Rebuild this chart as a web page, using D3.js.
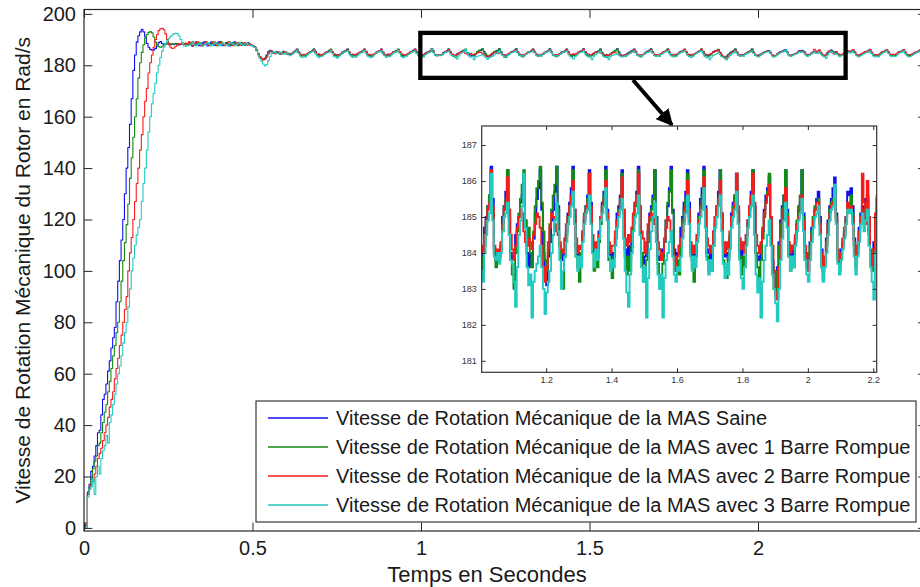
<!DOCTYPE html>
<html>
<head>
<meta charset="utf-8">
<script src="https://cdn.jsdelivr.net/npm/d3@7/dist/d3.min.js"></script>
<style>
  body { margin: 0; background: #fff; }
  svg { display: block; }
</style>
</head>
<body>
<svg id="chart" width="920" height="587"></svg>
<script>
// Sampling step of the simulated speed signals (s)
const STEP = 0.005;

// Axis ticks
const xTicks = [0, 0.5, 1, 1.5, 2];
const yTicks = [0, 20, 40, 60, 80, 100, 120, 140, 160, 180, 200];
const insetXTicks = [1.2, 1.4, 1.6, 1.8, 2, 2.2];
const insetYTicks = [181, 182, 183, 184, 185, 186, 187];

const seriesNames = [
  "Vitesse de Rotation Mécanique de la MAS Saine",
  "Vitesse de Rotation Mécanique de la MAS avec 1 Barre Rompue",
  "Vitesse de Rotation Mécanique de la MAS avec 2 Barre Rompue",
  "Vitesse de Rotation Mécanique de la MAS avec 3 Barre Rompue"
];
const seriesColors = ["#1010f5", "#138a13", "#f51c1c", "#22cabf"];

// Start times of each recorded segment (s)
const segmentStarts = { rise: 0, plateau: 0.305, loadStep: 0.505, steady: 0.605 };

// ---- Healthy machine (Saine) ----
const blueRise = [0, 1, 14, 17, 22, 24, 28, 32, 37, 38, 44, 50, 52, 56, 61, 65, 70, 74, 78, 88, 96, 104, 112, 120, 130, 140, 148, 157, 167, 178, 184, 189, 191.5, 193, 194, 193, 191, 188.5, 187, 186.2, 185.9, 186, 186.5, 187.5, 188.8, 189.2, 188.5, 188, 188.3, 188.6, 188.2, 188.0, 188.4, 188.1, 188.5, 188.2, 187.9, 188.3, 188.6, 188.2, 188.0];
const bluePlateau = [188.3, 188.9, 188.2, 187.4, 188.0, 189.1, 188.4, 187.6, 188.1, 188.8, 189.1, 188.2, 187.5, 188.3, 189.0, 188.5, 187.7, 188.2, 188.9, 189.2, 188.4, 187.6, 188.1, 188.8, 188.3, 187.5, 188.0, 188.7, 189.1, 188.3, 187.7, 188.2, 188.8, 188.4, 187.8, 188.3, 188.7, 188.1, 187.6, 187.5];
const blueLoadStep = [187.0, 185.8, 184.3, 183.2, 182.5, 182.2, 182.8, 184.0, 185.3, 185.8, 185.2, 184.6, 184.9, 185.3, 184.8, 184.4, 184.9, 185.4, 184.9, 184.5];
const blueSteady = [
  184.5, 184.2, 184.7, 185.1, 185.6,
  186.2, 185.1, 184.2, 183.9, 184.1, 183.8, 184.3, 184.9, 185.3, 185.6,
  186.3, 185.3, 184.0, 184.1, 183.6, 184.0, 184.6, 185.0, 185.2, 185.7,
  186.1, 185.2, 184.3, 183.8, 184.0, 183.9, 184.5, 185.1, 185.4, 185.8,
  186.3, 185.0, 183.9, 184.2, 183.7, 184.1, 184.4, 184.8, 185.3, 185.6,
  186.2, 185.4, 184.2, 183.8, 184.1, 183.6, 184.2, 185.0, 185.4, 185.7,
  186.3, 185.1, 184.0, 183.9, 184.3, 183.8, 184.6, 185.1, 185.3, 185.6,
  186.1, 185.2, 184.1, 183.7, 184.0, 183.9, 184.3, 184.9, 185.4, 185.8,
  186.3, 185.3, 184.2, 184.0, 183.8, 184.0, 184.7, 185.0, 185.3, 185.6,
  186.4, 185.5, 184.1, 183.8, 184.0, 183.9, 184.2, 185.0, 185.3, 185.7,
  186.3, 185.2, 184.0, 183.8, 183.9, 184.5, 184.8, 185.0, 185.4, 185.6,
  186.1, 184.9, 184.0, 183.6, 184.0, 183.7, 184.4, 185.1, 185.5, 185.8,
  186.3, 185.2, 184.0, 183.4, 183.1, 183.9, 184.3, 184.9, 185.2, 185.7,
  186.4, 185.3, 184.2, 184.0, 183.8, 184.1, 184.6, 185.1, 185.4, 185.8,
  186.4, 185.2, 184.1, 183.9, 184.0, 183.8, 184.5, 184.9, 185.3, 185.6,
  186.3, 185.4, 184.2, 184.0, 183.7, 184.1, 184.6, 185.0, 185.4, 185.7,
  186.4, 185.2, 184.0, 183.8, 184.0, 183.9, 184.4, 185.1, 185.3, 185.6,
  186.3, 185.1, 184.1, 183.9, 184.2, 183.8, 184.5, 185.0, 185.4, 185.7,
  186.4, 185.3, 184.0, 183.7, 183.9, 184.0, 184.6, 185.1, 185.3, 185.6,
  186.3, 185.0, 183.9, 183.8, 184.1, 183.9, 184.3, 184.9, 185.3, 185.8,
  186.4, 185.2, 184.1, 183.9, 184.0, 184.2, 184.7, 185.0, 185.4, 185.7,
  186.3, 185.4, 184.2, 183.8, 184.1, 183.9, 184.5, 185.1, 185.5, 185.8,
  186.4, 185.3, 184.0, 184.1, 183.8, 184.0, 184.6, 185.0, 185.3, 185.7,
  186.3, 185.1, 184.2, 183.9, 184.0, 183.8, 184.4, 185.1, 185.4, 185.6,
  186.2, 185.2, 184.1, 183.7, 184.1, 184.0, 184.5, 184.9, 185.3, 185.7,
  186.3, 185.3, 184.0, 183.9, 183.8, 184.1, 184.6, 185.2, 185.6, 185.8,
  186.1, 185.0, 183.8, 183.3, 182.9, 183.6, 184.3, 184.9, 185.3, 185.6,
  186.3, 185.2, 184.1, 183.9, 184.2, 183.9, 184.4, 184.8, 185.2, 185.4,
  186.3, 185.1, 184.0, 183.8, 184.0, 184.3, 184.7, 185.0, 185.2, 185.5,
  185.7, 185.0, 184.1, 183.5, 183.8, 184.4, 184.9, 185.3, 185.5, 185.8,
  186.1, 185.1, 184.0, 183.7, 184.1, 184.3, 184.6, 185.0, 185.7, 185.6,
  185.8, 185.3, 184.4, 183.9, 184.2, 184.7, 185.1, 185.3, 185.0, 185.5,
  185.6, 184.6, 184.0, 183.8, 184.3, 185.0, 185.5, 185.9, 185.4, 184.9,
  185.2, 184.5, 183.9, 184.1, 184.4, 184.9, 185.3, 185.6, 185.2, 185.5,
  186.0, 185.1, 184.2, 183.8, 184.0, 184.4, 184.8, 185.1, 185.4, 185.6,
  186.2, 185.0, 184.1, 183.9, 184.1, 183.8, 184.5, 185.0, 185.3, 185.7,
  186.0, 185.2, 184.3, 183.9, 184.2, 184.0, 184.6, 185.1, 185.4, 185.5,
  186.1, 185.0, 184.2, 183.8, 184.0, 184.3, 184.7, 185.0, 185.3, 185.6,
  186.0, 185.1, 184.2, 184.0, 184.3
];

// ---- 1 broken bar ----
const greenRise = [0, 2, 13, 16, 19, 23, 26, 28, 32, 33, 37, 41, 45, 48, 53, 57, 62, 67, 71, 76, 80, 88, 96, 104, 111, 118, 126, 136, 144, 152, 160, 167, 175, 181, 185, 188, 190.5, 192, 192.8, 193.1, 192.6, 191, 189, 187.8, 187.2, 187, 187.4, 188, 188.5, 188.3, 188.6, 188.2, 188.4, 188, 188.3, 188.5, 188.1, 188.4, 188.2, 188.5, 188.1];
const greenPlateau = [188.5, 188.0, 188.7, 189.1, 188.3, 187.7, 188.4, 188.9, 188.2, 187.6, 188.3, 189.0, 188.5, 187.8, 188.4, 189.1, 188.3, 187.6, 188.2, 188.8, 189.1, 188.3, 187.8, 188.5, 189.0, 188.2, 187.7, 188.3, 188.8, 188.1, 187.6, 188.3, 188.9, 188.5, 188.0, 187.9, 188.5, 188.2, 187.8, 187.6];
const greenLoadStep = [187.2, 186.0, 184.6, 183.4, 182.7, 182.4, 182.6, 183.6, 184.8, 185.6, 185.4, 184.7, 184.6, 185.1, 185.0, 184.3, 184.7, 185.3, 185.1, 184.4];
const greenSteady = [
  184.3, 184.6, 184.4, 185.0, 185.5,
  186.3, 185.0, 183.9, 183.6, 183.9, 183.4, 184.1, 184.8, 185.3, 185.5,
  186.2, 184.9, 184.1, 183.5, 184.0, 183.7, 184.3, 184.9, 185.2, 185.6,
  186.3, 185.1, 183.8, 183.7, 183.3, 183.9, 184.4, 185.0, 185.4, 185.5,
  186.2, 185.0, 184.0, 183.5, 183.9, 183.6, 184.2, 184.8, 185.2, 185.6,
  186.3, 185.2, 183.9, 183.7, 183.4, 184.0, 184.5, 184.9, 185.3, 185.5,
  186.1, 184.8, 184.0, 183.6, 184.0, 183.5, 184.3, 185.0, 185.4, 185.7,
  186.3, 185.1, 183.9, 183.4, 183.8, 183.7, 184.4, 184.9, 185.2, 185.5,
  186.2, 185.0, 184.1, 183.6, 183.9, 183.3, 184.2, 184.8, 185.3, 185.6,
  186.3, 185.2, 184.0, 183.6, 183.9, 183.8, 184.1, 184.6, 185.3, 185.5,
  186.3, 185.0, 183.8, 183.4, 183.0, 184.0, 184.6, 185.1, 185.5, 185.9,
  186.3, 184.9, 184.4, 184.7, 184.0, 183.6, 184.6, 185.3, 185.8, 186.0,
  186.4, 185.4, 184.6, 183.8, 183.5, 184.1, 184.8, 185.2, 185.6, 185.9,
  186.4, 185.2, 184.2, 183.5, 183.0, 183.9, 184.5, 185.0, 185.3, 185.6,
  186.3, 185.0, 183.9, 183.6, 183.2, 184.0, 184.6, 185.1, 185.3, 185.5,
  186.2, 185.1, 184.0, 183.5, 183.9, 183.6, 184.3, 184.8, 185.3, 185.6,
  186.3, 185.0, 183.8, 183.6, 183.3, 183.9, 184.4, 184.9, 185.2, 185.5,
  186.2, 185.2, 183.9, 183.4, 183.9, 183.5, 184.2, 184.8, 185.3, 185.6,
  186.3, 185.1, 184.0, 183.6, 183.2, 183.8, 184.3, 184.9, 185.2, 185.5,
  186.3, 185.0, 183.7, 183.3, 183.0, 183.7, 184.3, 184.9, 185.4, 185.7,
  186.3, 185.1, 183.9, 183.5, 183.8, 183.4, 184.2, 184.9, 185.2, 185.5,
  186.2, 185.0, 184.0, 183.6, 183.2, 183.9, 184.4, 185.0, 185.3, 185.6,
  186.3, 185.2, 183.9, 183.5, 183.8, 183.5, 184.2, 184.8, 185.2, 185.5,
  186.3, 185.0, 183.8, 183.6, 183.3, 183.9, 184.5, 184.9, 185.3, 185.6,
  186.2, 185.1, 183.9, 183.4, 183.9, 183.6, 184.3, 184.8, 185.2, 185.5,
  186.3, 185.2, 184.0, 183.6, 183.2, 183.8, 184.4, 185.0, 185.4, 185.7,
  186.2, 184.9, 183.6, 183.0, 182.8, 183.5, 184.2, 184.8, 185.2, 185.6,
  186.3, 185.1, 183.9, 183.5, 183.8, 183.6, 184.3, 184.9, 185.3, 185.6,
  186.3, 185.0, 183.8, 183.6, 184.0, 184.2, 184.6, 185.0, 185.3, 185.4,
  185.5, 184.8, 183.9, 183.3, 183.7, 184.2, 184.8, 185.2, 185.4, 185.5,
  185.8, 184.9, 183.8, 183.5, 183.9, 184.2, 184.5, 184.9, 185.4, 185.3,
  185.6, 185.1, 184.2, 183.6, 184.0, 184.5, 184.9, 185.2, 184.9, 185.3,
  185.5, 184.5, 183.8, 183.5, 184.0, 184.7, 185.2, 185.6, 185.3, 184.8,
  185.0, 184.3, 183.7, 183.9, 184.2, 184.7, 185.1, 185.4, 185.0, 185.3,
  185.8, 184.9, 184.0, 183.6, 183.8, 184.2, 184.6, 185.0, 185.3, 185.5,
  186.0, 184.8, 183.9, 183.7, 183.9, 183.6, 184.3, 184.9, 185.2, 185.6,
  185.9, 185.0, 184.1, 183.7, 184.0, 183.8, 184.4, 185.0, 185.3, 185.4,
  186.0, 184.8, 184.0, 183.6, 183.8, 184.1, 184.5, 184.9, 185.2, 185.5,
  185.9, 184.9, 184.0, 183.8, 184.1
];

// ---- 2 broken bars ----
const redRise = [0, 2, 13, 15, 17, 18, 21, 24, 27, 29, 31, 34, 37, 40, 43, 47, 50, 53, 58, 62, 66, 71, 75, 80, 85, 90, 100, 107, 113, 120, 127, 134, 140, 147, 153, 160, 166, 171, 177, 181, 184, 187, 190, 192, 193.5, 194.2, 194.4, 193.8, 192.2, 190, 188, 187, 186.5, 186.7, 187.3, 188, 188.4, 188.1, 188.5, 188.2, 188.6];
const redPlateau = [188.4, 189.1, 188.3, 187.6, 188.2, 188.8, 189.1, 188.2, 187.5, 188.0, 188.7, 189.2, 188.4, 187.7, 188.1, 188.8, 189.1, 188.3, 187.6, 188.3, 188.9, 188.4, 187.7, 188.2, 188.8, 189.1, 188.3, 187.6, 188.1, 188.7, 188.9, 188.2, 187.7, 188.3, 188.8, 188.2, 187.8, 188.3, 188.0, 187.6];
const redLoadStep = [187.1, 185.9, 184.4, 183.3, 182.6, 182.1, 182.4, 183.2, 184.5, 185.5, 185.6, 184.9, 184.5, 184.9, 185.2, 184.6, 184.4, 185.0, 185.2, 184.6];
const redSteady = [
  184.7, 184.4, 184.6, 185.0, 185.3,
  186.0, 185.2, 184.4, 184.0, 184.3, 184.1, 184.5, 184.9, 185.1, 185.4,
  185.8, 185.0, 184.3, 184.5, 183.9, 184.2, 184.6, 185.0, 185.2, 185.3,
  186.1, 185.3, 184.5, 184.1, 184.2, 183.9, 184.4, 184.8, 185.2, 185.5,
  185.9, 185.1, 184.2, 184.4, 184.0, 184.3, 184.7, 185.0, 185.1, 185.4,
  186.0, 185.2, 184.4, 184.1, 184.3, 184.0, 184.5, 184.9, 185.3, 185.5,
  186.2, 185.0, 184.3, 184.0, 184.4, 184.1, 184.6, 185.0, 185.2, 185.4,
  185.9, 185.3, 184.5, 184.2, 184.0, 184.3, 184.7, 185.1, 185.3, 185.5,
  186.1, 185.1, 184.3, 184.0, 184.2, 184.0, 184.5, 184.9, 185.2, 185.4,
  186.3, 185.3, 184.2, 184.0, 184.1, 183.9, 184.3, 184.8, 185.2, 185.4,
  186.1, 185.2, 184.5, 184.1, 183.8, 184.2, 184.7, 185.0, 185.2, 185.1,
  184.6, 184.3, 184.2, 184.4, 184.3, 184.1, 184.5, 184.8, 185.1, 185.0,
  184.7, 184.2, 183.6, 183.2, 183.6, 184.3, 184.7, 185.1, 185.0, 184.6,
  184.8, 184.5, 184.3, 184.1, 184.0, 184.4, 184.8, 185.0, 185.3, 185.6,
  186.0, 185.2, 184.4, 184.0, 184.2, 184.1, 184.6, 185.0, 185.2, 185.4,
  186.2, 185.3, 184.5, 184.1, 184.3, 183.9, 184.5, 185.0, 185.3, 185.5,
  186.0, 185.1, 184.3, 184.0, 184.2, 184.2, 184.6, 184.9, 185.1, 185.4,
  186.1, 185.2, 184.4, 184.2, 184.5, 184.3, 184.7, 185.1, 185.4, 185.6,
  186.2, 185.3, 184.6, 184.4, 184.0, 184.3, 184.8, 185.0, 185.1, 185.0,
  184.8, 184.6, 184.3, 184.1, 183.8, 184.0, 184.4, 184.7, 185.0, 184.9,
  184.6, 184.2, 183.8, 183.5, 183.9, 184.2, 184.4, 184.6, 184.9, 185.3,
  186.0, 185.2, 184.3, 184.0, 184.2, 184.0, 184.5, 184.9, 185.2, 185.4,
  186.1, 185.2, 184.4, 184.2, 184.0, 184.2, 184.6, 185.0, 185.3, 185.5,
  186.0, 185.1, 184.3, 184.0, 184.3, 184.1, 184.6, 185.0, 185.2, 185.4,
  186.2, 185.3, 184.4, 184.1, 184.3, 184.0, 184.5, 184.9, 185.3, 185.6,
  186.2, 185.4, 184.5, 184.2, 184.0, 184.3, 184.7, 185.1, 185.4, 185.6,
  185.9, 185.0, 184.2, 183.5, 182.9, 182.7, 183.6, 184.4, 184.9, 185.2,
  185.8, 185.0, 184.3, 184.0, 184.2, 184.1, 184.5, 184.8, 185.0, 185.3,
  185.6, 184.9, 184.2, 183.8, 183.5, 184.0, 184.5, 184.9, 185.2, 185.4,
  185.4, 184.8, 184.0, 183.6, 183.9, 184.3, 184.8, 185.1, 185.3, 185.4,
  185.6, 185.0, 184.1, 183.8, 184.0, 184.4, 184.7, 185.0, 185.4, 185.2,
  185.3, 185.0, 184.3, 183.8, 184.2, 184.6, 185.0, 186.2, 185.4, 184.8,
  186.0, 185.0, 184.1, 183.6, 184.1, 185.1, 185.6, 185.2, 184.7, 184.2,
  185.3, 184.6, 184.0, 184.2, 184.5, 185.0, 185.4, 185.7, 185.3, 185.5,
  186.0, 185.2, 184.3, 184.0, 184.2, 184.5, 184.9, 185.2, 185.4, 185.5,
  186.1, 185.1, 184.3, 184.0, 184.2, 184.0, 184.6, 185.1, 185.3, 185.5,
  185.9, 185.1, 184.4, 184.1, 184.3, 184.1, 184.7, 185.0, 185.2, 185.4,
  186.0, 185.1, 184.3, 184.0, 184.2, 184.4, 184.8, 185.1, 185.3, 185.4,
  186.0, 185.2, 184.4, 184.1, 184.4
];

// ---- 3 broken bars ----
const cyanRise = [0, 0, 12, 15, 16, 19, 13, 20, 24, 21, 27, 30, 32, 36, 33, 41, 44, 48, 52, 56, 60, 63, 67, 72, 76, 80, 86, 93, 100, 105, 110, 114, 117, 120, 127, 134, 140, 147, 154, 160, 165, 169, 173, 177, 180, 183, 185.5, 187, 188.5, 189.5, 190.5, 191.3, 191.8, 192.2, 192.4, 192.3, 191.5, 190, 188.5, 187.5, 187.3];
const cyanPlateau = [187.6, 187.8, 188.4, 188.7, 188.0, 187.5, 188.1, 188.6, 188.0, 187.4, 187.9, 188.5, 188.8, 188.1, 187.5, 188.0, 188.6, 188.8, 188.1, 187.6, 188.2, 188.7, 188.1, 187.5, 188.0, 188.6, 188.9, 188.2, 187.6, 188.1, 188.6, 188.8, 188.1, 187.7, 188.2, 188.6, 188.1, 187.7, 187.8, 187.5];
const cyanLoadStep = [187.0, 185.6, 184.0, 182.6, 181.5, 180.5, 179.7, 180.3, 181.8, 183.3, 184.6, 185.3, 185.0, 184.5, 184.8, 185.1, 184.6, 184.3, 184.8, 185.0];
const cyanSteady = [
  184.0, 183.7, 184.3, 184.8, 185.2,
  185.7, 184.6, 183.5, 183.0, 183.6, 183.2, 184.0, 184.6, 185.0, 185.2,
  185.5, 184.4, 183.6, 182.9, 183.4, 183.6, 184.1, 184.7, 184.9, 185.1,
  185.8, 184.7, 183.4, 183.1, 182.8, 183.5, 184.2, 184.7, 185.0, 185.3,
  185.6, 184.5, 183.6, 183.0, 183.5, 183.1, 183.9, 184.5, 184.9, 185.2,
  185.7, 184.6, 183.5, 183.2, 182.9, 183.6, 184.2, 184.7, 185.1, 185.3,
  185.6, 184.4, 183.6, 183.0, 183.5, 183.3, 184.0, 184.6, 185.0, 185.2,
  185.8, 184.7, 183.4, 182.9, 183.3, 183.6, 184.1, 184.6, 185.0, 185.3,
  185.6, 184.5, 183.7, 183.1, 183.5, 183.2, 184.0, 184.5, 184.9, 185.1,
  186.2, 184.9, 183.9, 183.8, 184.0, 183.7, 184.0, 184.6, 185.0, 185.1,
  185.4, 184.5, 183.8, 183.7, 183.2, 182.5, 183.6, 184.5, 184.9, 185.3,
  186.2, 184.7, 183.6, 183.1, 183.4, 182.2, 183.2, 183.5, 183.7, 183.9,
  184.2, 183.6, 183.0, 182.3, 182.9, 183.2, 183.5, 184.0, 184.5, 184.9,
  185.4, 184.6, 183.8, 183.0, 183.5, 183.9, 184.3, 184.8, 185.0, 185.3,
  185.7, 184.8, 183.9, 183.5, 183.9, 183.6, 184.3, 184.8, 185.1, 185.2,
  185.6, 184.8, 184.0, 183.6, 184.1, 183.8, 184.4, 184.9, 185.1, 185.3,
  185.8, 184.9, 183.9, 183.5, 183.8, 183.6, 184.2, 184.7, 185.0, 185.2,
  185.5, 184.4, 183.5, 182.9, 182.5, 183.4, 184.0, 184.6, 185.0, 185.1,
  185.6, 184.5, 183.6, 183.2, 183.6, 182.2, 183.3, 184.1, 184.6, 185.0,
  185.4, 184.3, 183.4, 183.0, 183.4, 182.2, 183.3, 183.8, 184.0, 184.3,
  184.6, 183.9, 183.4, 183.2, 183.6, 183.5, 183.9, 184.4, 184.8, 185.1,
  185.6, 184.8, 183.9, 183.5, 183.9, 183.6, 184.3, 184.8, 185.0, 185.2,
  185.8, 184.7, 183.8, 183.4, 183.8, 183.5, 184.2, 184.7, 185.0, 185.3,
  185.6, 184.6, 183.7, 183.3, 183.7, 183.4, 184.1, 184.7, 185.0, 185.2,
  185.7, 184.8, 183.8, 183.3, 183.0, 183.6, 184.2, 184.7, 185.0, 185.3,
  185.6, 184.5, 183.4, 182.9, 183.3, 182.2, 183.2, 183.8, 184.2, 184.5,
  184.9, 184.2, 183.4, 183.0, 182.6, 182.1, 183.0, 183.8, 184.4, 184.9,
  185.4, 184.7, 183.9, 183.5, 183.9, 183.6, 184.2, 184.6, 184.9, 185.1,
  185.5, 184.6, 183.8, 183.4, 183.2, 183.8, 184.3, 184.7, 185.0, 185.1,
  185.3, 184.5, 183.6, 183.2, 183.6, 184.0, 184.5, 184.9, 185.2, 185.3,
  185.9, 184.8, 183.7, 183.4, 183.8, 184.1, 184.4, 184.8, 185.2, 185.1,
  185.2, 184.8, 183.9, 183.4, 183.9, 184.3, 184.8, 185.1, 184.6, 184.9,
  185.2, 184.2, 183.6, 183.2, 182.7, 184.0, 185.0, 185.3, 184.9, 184.3,
  184.6, 184.0, 183.3, 183.7, 184.0, 184.5, 184.9, 185.2, 184.8, 185.0,
  185.5, 184.6, 183.7, 183.2, 183.5, 183.9, 184.3, 184.7, 185.0, 185.1,
  185.6, 184.5, 183.6, 183.2, 183.5, 183.2, 183.9, 184.5, 184.9, 185.2,
  185.5, 184.6, 183.7, 183.3, 183.6, 183.4, 184.0, 184.6, 184.9, 185.1,
  185.6, 184.5, 183.7, 183.2, 183.4, 183.8, 184.3, 184.7, 185.0, 185.2,
  185.6, 184.6, 183.7, 183.4, 183.8
];

const seriesSegments = [
  [blueRise, bluePlateau, blueLoadStep, blueSteady],
  [greenRise, greenPlateau, greenLoadStep, greenSteady],
  [redRise, redPlateau, redLoadStep, redSteady],
  [cyanRise, cyanPlateau, cyanLoadStep, cyanSteady]
];

// Region of the main plot that is magnified in the inset (time s, speed rad/s)
const zoomWindowTime = [0.998, 2.26];
const zoomWindowSpeed = [175.1, 192.6];

// ---------------------------------------------------------------
const starts = [segmentStarts.rise, segmentStarts.plateau, segmentStarts.loadStep, segmentStarts.steady];
const series = seriesSegments.map((segs, k) => ({
  name: seriesNames[k],
  color: seriesColors[k],
  points: segs.flatMap((vals, s) => vals.map((v, i) => [starts[s] + i * STEP, v]))
}));

const svg = d3.select("#chart");
const FONT = "'Liberation Sans', Arial, Helvetica, sans-serif";
const AXIS_COLOR = "#262626";

// Main axes
const plot = { left: 84, right: 926.5, top: 9.5, bottom: 531 };
const x = d3.scaleLinear().domain([0, 2.5]).range([plot.left, plot.right]);
const y = d3.scaleLinear().domain([-1.2, 201.7]).range([plot.bottom, plot.top]);

const defs = svg.append("defs");
defs.append("clipPath").attr("id", "mainClip").append("rect")
  .attr("x", plot.left).attr("y", plot.top)
  .attr("width", plot.right - plot.left).attr("height", plot.bottom - plot.top);

// Sampled signals are held between samples (zero-order hold)
const mainLine = d3.line().x(d => x(d[0])).y(d => y(d[1])).curve(d3.curveStepAfter);
const gLines = svg.append("g").attr("clip-path", "url(#mainClip)");
series.forEach(s => {
  gLines.append("path").attr("d", mainLine(s.points))
    .attr("fill", "none").attr("stroke", s.color).attr("stroke-width", 1.1)
    .attr("stroke-linejoin", "round");
});

function styleAxis(g, size, color) {
  g.attr("font-family", FONT).attr("font-size", size);
  g.select(".domain").remove();
  g.selectAll(".tick line").attr("stroke", AXIS_COLOR);
  g.selectAll(".tick text").attr("fill", color);
}

const gx = svg.append("g").attr("transform", `translate(0,${plot.bottom})`)
  .call(d3.axisBottom(x).tickValues(xTicks).tickSize(-8.4).tickPadding(10).tickFormat(d => String(d)));
styleAxis(gx, 20, "#1a1a1a");
const gxTop = svg.append("g").attr("transform", `translate(0,${plot.top})`)
  .call(d3.axisTop(x).tickValues(xTicks).tickSize(-8.4).tickFormat(""));
styleAxis(gxTop, 20, AXIS_COLOR);
const gy = svg.append("g").attr("transform", `translate(${plot.left},0)`)
  .call(d3.axisLeft(y).tickValues(yTicks).tickSize(-8.4).tickPadding(8).tickFormat(d => String(d)));
styleAxis(gy, 20, "#1a1a1a");
const gyRight = svg.append("g").attr("transform", `translate(${plot.right},0)`)
  .call(d3.axisRight(y).tickValues(yTicks).tickSize(-8.4).tickFormat(""));
styleAxis(gyRight, 20, AXIS_COLOR);

svg.append("rect")
  .attr("x", plot.left).attr("y", plot.top)
  .attr("width", plot.right - plot.left).attr("height", plot.bottom - plot.top)
  .attr("fill", "none").attr("stroke", AXIS_COLOR).attr("stroke-width", 1.2);

// Axis titles
svg.append("text")
  .attr("x", 487).attr("y", 582)
  .attr("text-anchor", "middle")
  .attr("font-family", FONT).attr("font-size", 22).attr("fill", "#1a1a1a")
  .text("Temps en Secondes");
svg.append("text")
  .attr("transform", `translate(30,${(plot.top + plot.bottom) / 2}) rotate(-90)`)
  .attr("text-anchor", "middle")
  .attr("font-family", FONT).attr("font-size", 21).attr("fill", "#1a1a1a")
  .text("Vitesse de Rotation Mécanique du Rotor en Rad/s");

// Highlight frame around the magnified region
svg.append("rect")
  .attr("x", x(zoomWindowTime[0])).attr("y", y(zoomWindowSpeed[1]))
  .attr("width", x(zoomWindowTime[1]) - x(zoomWindowTime[0]))
  .attr("height", y(zoomWindowSpeed[0]) - y(zoomWindowSpeed[1]))
  .attr("fill", "none").attr("stroke", "#000").attr("stroke-width", 4.3);

// Arrow pointing to the inset
defs.append("marker").attr("id", "arrowHead")
  .attr("viewBox", "0 0 10 10").attr("refX", 9).attr("refY", 5)
  .attr("markerWidth", 4.2).attr("markerHeight", 4.2).attr("orient", "auto")
  .append("path").attr("d", "M0,0 L10,5 L0,10 Z").attr("fill", "#000");
svg.append("line")
  .attr("x1", 633).attr("y1", 80).attr("x2", 672).attr("y2", 125)
  .attr("stroke", "#000").attr("stroke-width", 4)
  .attr("marker-end", "url(#arrowHead)");

// Inset (zoom 1.0 s – 2.2 s)
const inset = { left: 481.7, right: 876.7, top: 126, bottom: 372.3 };
const xi = d3.scaleLinear().domain([1.003, 2.2104]).range([inset.left, inset.right]);
const yi = d3.scaleLinear().domain([180.68, 187.53]).range([inset.bottom, inset.top]);

svg.append("rect")
  .attr("x", inset.left).attr("y", inset.top)
  .attr("width", inset.right - inset.left).attr("height", inset.bottom - inset.top)
  .attr("fill", "#fff");

defs.append("clipPath").attr("id", "insetClip").append("rect")
  .attr("x", inset.left).attr("y", inset.top)
  .attr("width", inset.right - inset.left).attr("height", inset.bottom - inset.top);

const insetLine = d3.line().x(d => xi(d[0])).y(d => yi(d[1])).curve(d3.curveStepAfter);
const gInset = svg.append("g").attr("clip-path", "url(#insetClip)");
series.forEach(s => {
  const pts = s.points.filter(d => d[0] >= 0.99 && d[0] <= 2.225);
  gInset.append("path").attr("d", insetLine(pts))
    .attr("fill", "none").attr("stroke", s.color).attr("stroke-width", 1.9)
    .attr("stroke-linejoin", "miter");
});

const INSET_TEXT = "#333";
const gxi = svg.append("g").attr("transform", `translate(0,${inset.bottom})`)
  .call(d3.axisBottom(xi).tickValues(insetXTicks).tickSize(-4).tickPadding(4.5).tickFormat(d => String(d)));
styleAxis(gxi, 9, INSET_TEXT);
const gxiTop = svg.append("g").attr("transform", `translate(0,${inset.top})`)
  .call(d3.axisTop(xi).tickValues(insetXTicks).tickSize(-4).tickFormat(""));
styleAxis(gxiTop, 9, INSET_TEXT);
const gyi = svg.append("g").attr("transform", `translate(${inset.left},0)`)
  .call(d3.axisLeft(yi).tickValues(insetYTicks).tickSize(-4).tickPadding(5).tickFormat(d => String(d)));
styleAxis(gyi, 9, INSET_TEXT);
const gyiRight = svg.append("g").attr("transform", `translate(${inset.right},0)`)
  .call(d3.axisRight(yi).tickValues(insetYTicks).tickSize(-4).tickFormat(""));
styleAxis(gyiRight, 9, INSET_TEXT);

svg.append("rect")
  .attr("x", inset.left).attr("y", inset.top)
  .attr("width", inset.right - inset.left).attr("height", inset.bottom - inset.top)
  .attr("fill", "none").attr("stroke", "#333").attr("stroke-width", 1.2);

// Legend
const legend = { left: 256, top: 401, right: 916, bottom: 522, rowY0: 418, rowGap: 29 };
svg.append("rect")
  .attr("x", legend.left).attr("y", legend.top)
  .attr("width", legend.right - legend.left).attr("height", legend.bottom - legend.top)
  .attr("fill", "#fff").attr("stroke", AXIS_COLOR).attr("stroke-width", 1.1);
const rows = svg.append("g").selectAll("g").data(series).join("g")
  .attr("transform", (d, i) => `translate(0,${legend.rowY0 + i * legend.rowGap})`);
rows.append("line")
  .attr("x1", 268).attr("x2", 328)
  .attr("stroke", d => d.color).attr("stroke-width", 1.3);
rows.append("text")
  .attr("x", 336).attr("dy", "0.35em")
  .attr("font-family", FONT).attr("font-size", 20).attr("fill", "#1a1a1a")
  .text(d => d.name);
</script>
</body>
</html>
